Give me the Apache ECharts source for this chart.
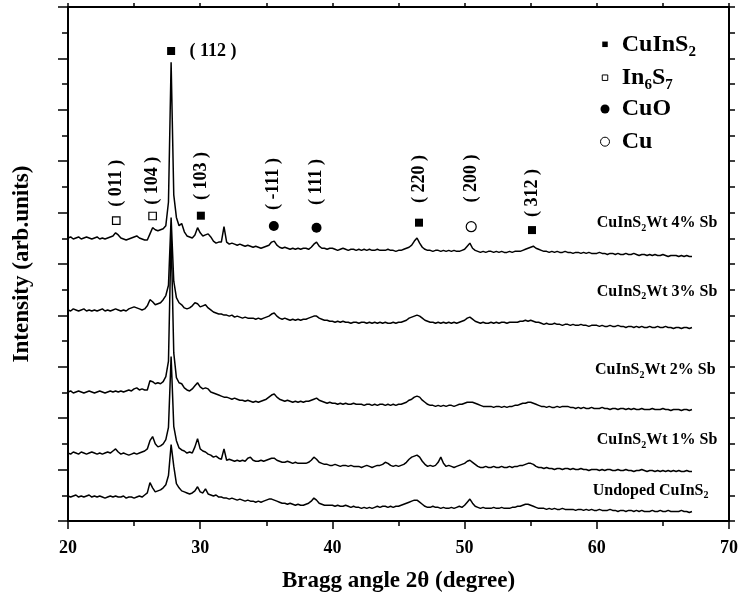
<!DOCTYPE html>
<html>
<head>
<meta charset="utf-8">
<script src="https://cdn.jsdelivr.net/npm/echarts@6/dist/echarts.min.js"></script>
<style>
  html, body { margin: 0; padding: 0; background: #ffffff; }
  #chart { width: 741px; height: 601px; }
</style>
</head>
<body>
<div id="chart"></div>
<script>
// ---- XRD scans: 2θ from 20.0° in 0.2° steps, intensity (arb. units) above each scan's own start ----
const scanStart = 20.0;
const scanStep = 0.2;

const undoped = [
  0, -1, 0, 1, -1, 0, -1, 0, 1, -1,
  0, -1, 0, -1, -2, -1, 0, -1, 0, -1,
  -1, 0, -2, -1, -1, -2, -1, 0, -1, 1,
  3, 13, 8, 4, 5, 6, 8, 11, 20, 50,
  29, 12, 8, 5, 4, 3, 2, 3, 5, 9,
  4, 3, 7, 2, 1, 0, 1, -1, -1, -2,
  -2, -3, -2, -3, -4, -3, -4, -5, -4, -5,
  -5, -6, -5, -6, -5, -4, -3, -3, -4, -5,
  -6, -7, -7, -8, -7, -8, -9, -8, -9, -9,
  -8, -7, -5, -2, -4, -7, -8, -9, -9, -9,
  -9, -10, -9, -10, -10, -9, -10, -11, -10, -11,
  -11, -12, -11, -12, -11, -12, -11, -10, -11, -10,
  -10, -11, -10, -11, -10, -10, -9, -8, -7, -6,
  -5, -4, -4, -6, -8, -10, -11, -11, -10, -11,
  -11, -12, -11, -12, -12, -11, -12, -11, -10, -11,
  -9, -6, -3, -7, -10, -11, -12, -11, -12, -12,
  -12, -11, -12, -12, -11, -12, -12, -12, -11, -11,
  -10, -10, -9, -8, -8, -9, -10, -11, -12, -12,
  -12, -13, -12, -13, -12, -13, -13, -12, -13, -13,
  -13, -13, -14, -13, -13, -14, -13, -14, -13, -14,
  -14, -13, -14, -14, -14, -13, -14, -14, -15, -14,
  -14, -15, -14, -14, -15, -14, -15, -14, -15, -15,
  -15, -14, -15, -15, -14, -15, -15, -14, -15, -15,
  -15, -15, -14, -15, -15, -16, -15
];

const sb1 = [
  0, -1, 1, 0, -1, 1, 0, -1, 0, 1,
  0, -1, 0, -1, 0, 1, 0, 2, 4, 1,
  -1, 0, -1, -2, -1, 0, -1, 0, 1, 2,
  4, 12, 16, 9, 6, 7, 9, 13, 25, 94,
  26, 12, 5, 3, 2, 0, 1, 0, 6, 14,
  4, 2, 1, -1, -2, -4, -3, -5, -6, 4,
  -7, -6, -7, -8, -7, -8, -7, -8, -5, -4,
  -7, -8, -8, -7, -8, -7, -6, -5, -5, -7,
  -8, -9, -9, -8, -9, -10, -9, -10, -10, -10,
  -10, -9, -7, -4, -6, -9, -10, -11, -11, -12,
  -12, -11, -12, -13, -12, -12, -13, -12, -13, -13,
  -13, -14, -13, -12, -13, -14, -13, -12, -12, -11,
  -9, -10, -12, -13, -12, -13, -12, -11, -9, -6,
  -4, -3, -2, -4, -8, -11, -13, -12, -13, -12,
  -9, -4, -10, -13, -12, -13, -14, -13, -12, -11,
  -10, -8, -7, -9, -11, -13, -14, -14, -13, -14,
  -14, -13, -14, -14, -13, -14, -14, -13, -14, -13,
  -13, -12, -12, -11, -10, -10, -11, -13, -14, -14,
  -15, -14, -15, -15, -16, -15, -15, -16, -15, -15,
  -16, -15, -16, -16, -15, -16, -16, -17, -16, -16,
  -16, -17, -16, -17, -16, -16, -17, -17, -16, -17,
  -17, -16, -17, -17, -18, -17, -17, -16, -17, -18,
  -17, -17, -18, -17, -18, -17, -18, -17, -18, -17,
  -18, -17, -18, -18, -17, -18, -18
];

const sb2 = [
  0, 1, -1, 0, 1, 0, -1, 0, 1, 0,
  -1, 0, 1, 0, -1, 0, 1, 0, 1, 0,
  1, 0, 1, 2, 1, 3, 4, 2, 3, 2,
  2, 11, 10, 8, 9, 8, 10, 15, 30, 155,
  38, 14, 9, 8, 4, 2, 1, 3, 6, 9,
  5, 3, 4, 3, 0, -1, -2, -3, -4, -5,
  -5, -6, -7, -6, -7, -8, -8, -9, -8, -9,
  -10, -9, -10, -9, -8, -7, -5, -3, -2, -5,
  -7, -8, -9, -8, -9, -10, -9, -10, -9, -10,
  -9, -9, -8, -7, -6, -8, -9, -10, -11, -10,
  -11, -11, -12, -11, -12, -11, -12, -12, -11, -12,
  -12, -12, -13, -12, -12, -13, -12, -13, -12, -12,
  -13, -12, -13, -12, -13, -12, -12, -11, -10, -8,
  -7, -5, -4, -5, -8, -10, -12, -13, -13, -14,
  -13, -14, -13, -14, -13, -13, -14, -13, -12, -12,
  -11, -10, -10, -10, -11, -12, -13, -14, -14, -14,
  -14, -15, -14, -14, -15, -14, -15, -14, -14, -13,
  -13, -12, -11, -11, -10, -10, -11, -12, -13, -14,
  -14, -15, -14, -15, -15, -14, -15, -14, -14, -14,
  -15, -15, -16, -15, -16, -15, -16, -16, -15, -16,
  -16, -16, -15, -16, -16, -17, -16, -16, -17, -16,
  -16, -17, -16, -17, -16, -17, -17, -16, -17, -17,
  -17, -16, -17, -17, -17, -16, -17, -17, -18, -17,
  -17, -17, -18, -17, -17, -18, -17
];

const sb3 = [
  0, -1, 1, 0, -1, 0, 1, -1, 0, -1,
  0, -1, 0, 1, -1, 0, -1, 0, 1, 0,
  -1, 0, -1, 1, 2, 3, 2, 1, 0, 1,
  4, 10, 8, 5, 6, 7, 10, 14, 24, 90,
  28, 12, 7, 5, 2, 1, 2, 4, 7, 6,
  3, 4, 5, 2, 0, -2, -3, -4, -4, -5,
  -5, -6, -5, -7, -6, -7, -8, -7, -8, -8,
  -8, -9, -8, -9, -8, -7, -6, -4, -3, -6,
  -8, -9, -8, -9, -10, -9, -10, -9, -10, -9,
  -9, -8, -7, -6, -6, -8, -9, -10, -10, -11,
  -11, -12, -11, -12, -11, -12, -12, -13, -12, -12,
  -13, -12, -12, -13, -12, -13, -12, -13, -12, -13,
  -12, -13, -13, -12, -13, -12, -12, -11, -10, -8,
  -7, -6, -5, -6, -8, -10, -11, -12, -12, -13,
  -12, -13, -12, -13, -12, -13, -12, -13, -12, -11,
  -10, -8, -7, -9, -11, -12, -13, -12, -13, -13,
  -12, -13, -12, -13, -12, -12, -13, -12, -12, -12,
  -12, -11, -11, -10, -11, -10, -11, -12, -12, -13,
  -14, -13, -14, -14, -13, -14, -14, -15, -14, -14,
  -15, -14, -15, -15, -14, -15, -15, -16, -15, -15,
  -15, -16, -15, -16, -16, -15, -16, -16, -15, -16,
  -16, -17, -16, -16, -17, -16, -17, -16, -17, -17,
  -16, -17, -17, -16, -17, -17, -16, -17, -17, -18,
  -17, -17, -18, -17, -17, -18, -17
];

const sb4 = [
  0, 1, -1, 0, 1, -1, 0, 1, 0, -1,
  0, 1, -1, 0, -1, 0, 1, 2, 5, 3,
  0, -1, -2, -1, 0, 1, 2, 0, -1, -2,
  -2, 4, 10, 8, 7, 8, 9, 12, 35, 171,
  42, 20, 12, 14, 6, 2, 1, 0, 3, 10,
  5, 2, 3, 4, 1, -3, -5, -4, -4, 11,
  -4, -6, -5, -6, -7, -6, -7, -8, -7, -8,
  -9, -8, -9, -10, -9, -8, -7, -4, -3, -7,
  -9, -10, -9, -10, -11, -10, -11, -10, -11, -10,
  -10, -11, -9, -6, -4, -8, -10, -10, -11, -10,
  -10, -11, -12, -11, -10, -11, -12, -11, -11, -12,
  -11, -12, -11, -12, -11, -12, -12, -11, -12, -12,
  -12, -11, -12, -12, -13, -12, -12, -11, -10, -9,
  -7, -3, 0, -5, -9, -11, -12, -12, -13, -12,
  -12, -13, -12, -13, -12, -13, -12, -13, -13, -12,
  -11, -8, -5, -10, -12, -13, -14, -13, -14, -13,
  -13, -14, -13, -14, -13, -14, -14, -13, -14, -13,
  -13, -13, -12, -11, -10, -9, -8, -10, -11, -12,
  -13, -13, -14, -13, -14, -13, -14, -14, -13, -14,
  -14, -15, -14, -14, -15, -14, -15, -14, -15, -15,
  -15, -14, -15, -15, -16, -15, -15, -16, -15, -16,
  -16, -15, -16, -16, -15, -16, -17, -16, -16, -17,
  -16, -17, -16, -17, -17, -16, -17, -18, -17, -17,
  -17, -18, -17, -18, -17, -18, -18
];

// samples, bottom to top
const sampleNames = ['Undoped CuInS2', 'CuInS2 Wt 1% Sb', 'CuInS2 Wt 2% Sb', 'CuInS2 Wt 3% Sb', 'CuInS2 Wt 4% Sb'];
const sampleScans = [undoped, sb1, sb2, sb3, sb4];
const sampleRichText = [
  '{t|Undoped CuInS}{s|2}',
  '{t|CuInS}{s|2}{t|Wt 1% Sb}',
  '{t|CuInS}{s|2}{t|Wt 2% Sb}',
  '{t|CuInS}{s|2}{t|Wt 3% Sb}',
  '{t|CuInS}{s|2}{t|Wt 4% Sb}'
];

// indexed reflections
const peakAngle = [23.65, 26.4, 27.8, 30.05, 35.57, 38.8, 46.55, 50.5, 55.1];
const peakHkl = ['( 011 )', '( 104 )', '( 112 )', '( 103 )', '( -111 )', '( 111 )', '( 220 )', '( 200 )', '( 312 )'];
const peakPhase = ['In6S7', 'In6S7', 'CuInS2', 'CuInS2', 'CuO', 'CuO', 'CuInS2', 'Cu', 'CuInS2'];

// phases in key order
const phaseNames = ['CuInS2', 'In6S7', 'CuO', 'Cu'];
const phaseRichText = ['{a|CuInS}{b|2}', '{a|In}{b|6}{a|S}{b|7}', '{a|CuO}', '{a|Cu}'];

// ---- layout / styling ----
const FONT = "'Liberation Serif', 'Times New Roman', serif";
const stackOffset = [24.3, 66.1, 125.5, 205.3, 275.3];     // vertical shift of each scan (axis units)
const markerLevel = [292.1, 296.7, 457.2, 297, 287, 285.3, 290.2, 286.3, 283];
const labelGap = [9.7, 7, 14.3, 11.7, 11, 17.7, 15.7, 18.7, 9];
const sampleLabelPos = [[592.7, 490.7], [596.7, 440], [595, 370], [596.7, 291.7], [596.7, 223.3]];
const legendX = 605, legendTextX = 621.7;
const legendY = [44.3, 77.7, 109, 141.7];

const phaseSymbol = {
  CuInS2: { symbol: 'rect', size: 8, fill: '#000' },
  In6S7: { symbol: 'rect', size: 7.5, fill: '#fff' },
  CuO: { symbol: 'circle', size: 10, fill: '#000' },
  Cu: { symbol: 'circle', size: 10, fill: '#fff' }
};

const hklText = { color: '#000', fontFamily: FONT, fontWeight: 'bold', fontSize: 18 };

const scanSeries = sampleScans.map((scan, k) => ({
  name: sampleNames[k],
  type: 'line',
  showSymbol: false,
  silent: true,
  animation: false,
  lineStyle: { color: '#000', width: 1.5 },
  data: scan.map((v, i) => [+(scanStart + i * scanStep).toFixed(1), v + stackOffset[k]])
}));

const peakSeries = {
  name: 'reflections',
  type: 'scatter',
  animation: false,
  clip: false,
  z: 5,
  data: peakAngle.map((a, i) => {
    const st = phaseSymbol[peakPhase[i]];
    const horizontal = peakHkl[i] === '( 112 )';
    return {
      value: [a, markerLevel[i]],
      symbol: st.symbol,
      symbolSize: st.size,
      itemStyle: { color: st.fill, opacity: 1, borderColor: '#000', borderWidth: st.fill === '#fff' ? 1.2 : 0 },
      label: horizontal
        ? Object.assign({ show: true, position: 'right', distance: labelGap[i], formatter: peakHkl[i] }, hklText)
        : Object.assign({ show: true, position: 'top', rotate: 90, align: 'left', verticalAlign: 'middle',
            distance: labelGap[i], formatter: peakHkl[i] }, hklText)
    };
  }),
  emphasis: { disabled: true }
};

const graphics = [];
sampleRichText.forEach((txt, k) => {
  graphics.push({
    type: 'text', x: sampleLabelPos[k][0], y: sampleLabelPos[k][1], silent: true,
    style: {
      text: txt, align: 'left', verticalAlign: 'middle',
      rich: {
        t: { fontFamily: FONT, fontWeight: 'bold', fontSize: 16, lineHeight: 20, fill: '#000' },
        s: { fontFamily: FONT, fontWeight: 'bold', fontSize: 10, lineHeight: 20, verticalAlign: 'bottom', fill: '#000' }
      }
    }
  });
});
phaseNames.forEach((ph, i) => {
  const st = phaseSymbol[ph];
  const y = legendY[i];
  if (st.symbol === 'rect') {
    graphics.push({ type: 'rect', silent: true,
      shape: { x: legendX - 2.75, y: y - 2.75, width: 5.5, height: 5.5 },
      style: st.fill === '#fff' ? { fill: '#fff', stroke: '#000', lineWidth: 1 } : { fill: '#000' } });
  } else {
    graphics.push({ type: 'circle', silent: true,
      shape: { cx: legendX, cy: y, r: 4.5 },
      style: st.fill === '#fff' ? { fill: '#fff', stroke: '#000', lineWidth: 1 } : { fill: '#000' } });
  }
  graphics.push({
    type: 'text', x: legendTextX, y: y, silent: true,
    style: {
      text: phaseRichText[i], align: 'left', verticalAlign: 'middle',
      rich: {
        a: { fontFamily: FONT, fontWeight: 'bold', fontSize: 24, lineHeight: 30, fill: '#000' },
        b: { fontFamily: FONT, fontWeight: 'bold', fontSize: 15, lineHeight: 30, verticalAlign: 'bottom', fill: '#000' }
      }
    }
  });
});

const axisBlack = { color: '#000', width: 2 };
const tickBlack = { color: '#000', width: 1.5 };

const chart = echarts.init(document.getElementById('chart'), null, { renderer: 'canvas' });
chart.setOption({
  backgroundColor: '#ffffff',
  animation: false,
  grid: { left: 68, right: 8, top: 7, bottom: 80, containLabel: false },
  xAxis: [
    {
      type: 'value', position: 'bottom', min: 20, max: 70, interval: 10,
      axisLine: { onZero: false, lineStyle: axisBlack },
      axisTick: { inside: false, length: 8, lineStyle: tickBlack },
      minorTick: { show: true, splitNumber: 2, length: 5, lineStyle: tickBlack },
      splitLine: { show: false },
      axisLabel: { margin: 18, color: '#000', fontFamily: FONT, fontWeight: 'bold', fontSize: 18 },
      name: 'Bragg angle 2θ (degree)', nameLocation: 'middle', nameGap: 49,
      nameTextStyle: { color: '#000', fontFamily: FONT, fontWeight: 'bold', fontSize: 23 }
    },
    {
      type: 'value', position: 'top', min: 20, max: 70, interval: 5,
      axisLine: { onZero: false, lineStyle: axisBlack },
      axisTick: { inside: false, length: 4, lineStyle: tickBlack },
      splitLine: { show: false },
      axisLabel: { show: false }
    }
  ],
  yAxis: [
    {
      type: 'value', position: 'left', min: 0, max: 500, interval: 50,
      axisLine: { onZero: false, lineStyle: axisBlack },
      axisTick: { inside: false, length: 10, lineStyle: tickBlack },
      minorTick: { show: true, splitNumber: 2, length: 6, lineStyle: tickBlack },
      splitLine: { show: false },
      axisLabel: { show: false },
      name: 'Intensity (arb.units)', nameLocation: 'middle', nameGap: 34,
      nameTextStyle: { color: '#000', fontFamily: FONT, fontWeight: 'bold', fontSize: 23 }
    },
    {
      type: 'value', position: 'right', min: 0, max: 500, interval: 25,
      axisLine: { onZero: false, lineStyle: axisBlack },
      axisTick: { inside: false, length: 6, lineStyle: tickBlack },
      splitLine: { show: false },
      axisLabel: { show: false }
    }
  ],
  series: scanSeries.concat([peakSeries]),
  graphic: graphics
});
</script>
</body>
</html>
